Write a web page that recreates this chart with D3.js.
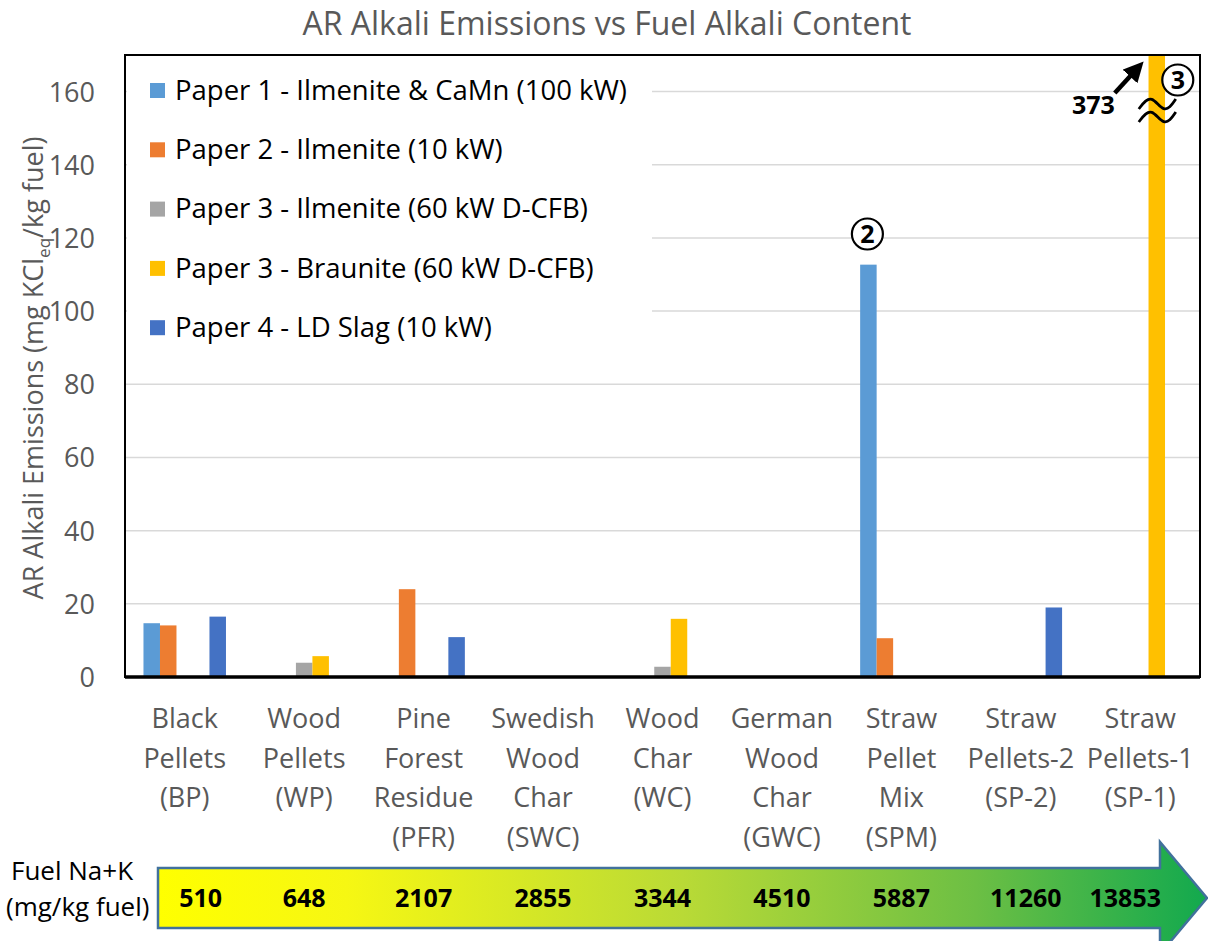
<!DOCTYPE html>
<html lang="en">
<head>
  <meta charset="UTF-8">
  <title>AR Alkali Emissions vs Fuel Alkali Content</title>
  <script src="https://d3js.org/d3.v7.min.js"></script>
  <style>
    body { margin: 0; background: #fff; }
    text { font-family: "Open Sans", "Noto Sans", sans-serif; }
  </style>
</head>
<body>
  <svg width="1208" height="941"></svg>
  <script>
    // fuels (x categories), each label split over lines
    const fuels = [
      ["Black", "Pellets", "(BP)"],
      ["Wood", "Pellets", "(WP)"],
      ["Pine", "Forest", "Residue", "(PFR)"],
      ["Swedish", "Wood", "Char", "(SWC)"],
      ["Wood", "Char", "(WC)"],
      ["German", "Wood", "Char", "(GWC)"],
      ["Straw", "Pellet", "Mix", "(SPM)"],
      ["Straw", "Pellets-2", "(SP-2)"],
      ["Straw", "Pellets-1", "(SP-1)"]
    ];
    const fuelIds = ["BP", "WP", "PFR", "SWC", "WC", "GWC", "SPM", "SP-2", "SP-1"];
    const fuelNaK = [510, 648, 2107, 2855, 3344, 4510, 5887, 11260, 13853];

    const seriesNames = [
      "Paper 1 - Ilmenite & CaMn (100 kW)",
      "Paper 2 - Ilmenite (10 kW)",
      "Paper 3 - Ilmenite (60 kW D-CFB)",
      "Paper 3 - Braunite (60 kW D-CFB)",
      "Paper 4 - LD Slag (10 kW)"
    ];
    const seriesColors = ["#5b9bd5", "#ed7d31", "#a5a5a5", "#ffc000", "#4472c4"];

    // values per series, one per fuel (null = not measured)
    const paper1 = [14.7, null, null, null, null, null, 112.7, null, null];
    const paper2 = [14.1, null, 24.0, null, null, null, 10.6, null, null];
    const paper3Ilm = [null, 3.9, null, null, 2.8, null, null, null, null];
    const paper3Brau = [null, 5.7, null, null, 15.9, null, null, null, 373];
    const paper4 = [16.5, null, 10.9, null, null, null, null, 19.0, null];
    const seriesValues = [paper1, paper2, paper3Ilm, paper3Brau, paper4];

    const yTicks = [0, 20, 40, 60, 80, 100, 120, 140, 160];

    const svg = d3.select("svg");
    const plotL = 125, plotR = 1200, plotT = 55, plotB = 677;

    const x = d3.scaleBand().domain(fuelIds).range([plotL, plotR]);
    const xs = d3.scaleBand().domain(d3.range(seriesNames.length))
        .range([0, x.bandwidth()]).paddingOuter(1.12);
    const y = d3.scaleLinear().domain([0, 170]).range([plotB, plotT]);

    svg.append("text")
        .attr("x", 607).attr("y", 35)
        .attr("text-anchor", "middle")
        .attr("font-size", 32)
        .attr("fill", "#595959")
        .text("AR Alkali Emissions vs Fuel Alkali Content");

    // gridlines
    svg.append("g")
        .selectAll("line")
        .data(yTicks.slice(1))
        .join("line")
          .attr("x1", plotL).attr("x2", plotR)
          .attr("y1", d => y(d)).attr("y2", d => y(d))
          .attr("stroke", "#d9d9d9")
          .attr("stroke-width", 1.5);

    // y axis labels
    const yAxis = svg.append("g")
        .attr("transform", `translate(${plotL},0)`)
        .call(d3.axisLeft(y).tickValues(yTicks).tickSize(0).tickPadding(30));
    yAxis.select(".domain").remove();
    yAxis.selectAll("text")
        .attr("font-size", 27)
        .attr("fill", "#595959")
        .attr("dy", "0.35em");

    const yTitle = svg.append("text")
        .attr("transform", "translate(43,368) rotate(-90)")
        .attr("text-anchor", "middle")
        .attr("font-size", 27)
        .attr("fill", "#595959");
    yTitle.append("tspan").text("AR Alkali Emissions (mg KCl");
    yTitle.append("tspan").attr("font-size", 17).attr("dy", 7).text("eq");
    yTitle.append("tspan").attr("dy", -7).text("/kg fuel)");

    svg.append("clipPath").attr("id", "plot")
      .append("rect")
        .attr("x", plotL).attr("y", plotT)
        .attr("width", plotR - plotL).attr("height", plotB - plotT);

    // bars
    const barData = [];
    seriesValues.forEach((vals, s) => vals.forEach((v, i) => {
      if (v != null) barData.push({ s, fuel: fuelIds[i], v });
    }));
    svg.append("g")
        .attr("clip-path", "url(#plot)")
      .selectAll("rect")
      .data(barData)
      .join("rect")
        .attr("x", d => x(d.fuel) + xs(d.s))
        .attr("y", d => y(d.v))
        .attr("width", xs.bandwidth())
        .attr("height", d => plotB - y(d.v))
        .attr("fill", d => seriesColors[d.s]);

    // legend with white background
    svg.append("rect")
        .attr("x", plotL + 2).attr("y", plotT + 2)
        .attr("width", 525).attr("height", 298)
        .attr("fill", "#fff");
    const legend = svg.append("g")
      .selectAll("g")
      .data(seriesNames)
      .join("g")
        .attr("transform", (d, i) => `translate(150,${90 + i * 59.3})`);
    legend.append("rect")
        .attr("x", 0).attr("y", -7)
        .attr("width", 15).attr("height", 15)
        .attr("fill", (d, i) => seriesColors[i]);
    legend.append("text")
        .attr("x", 25).attr("dy", "0.35em")
        .attr("font-size", 27.5)
        .attr("fill", "#000")
        .text(d => d);

    // plot frame
    svg.append("rect")
        .attr("x", plotL).attr("y", plotT)
        .attr("width", plotR - plotL).attr("height", plotB - plotT)
        .attr("fill", "none")
        .attr("stroke", "#000")
        .attr("stroke-width", 2);
    svg.append("line")
        .attr("x1", plotL).attr("x2", plotR)
        .attr("y1", plotB).attr("y2", plotB)
        .attr("stroke", "#000")
        .attr("stroke-width", 3.5);

    // category labels
    const cat = svg.append("g")
      .selectAll("text")
      .data(fuels)
      .join("text")
        .attr("x", (d, i) => x(fuelIds[i]) + x.bandwidth() / 2)
        .attr("y", 728)
        .attr("text-anchor", "middle")
        .attr("font-size", 27)
        .attr("fill", "#595959");
    cat.selectAll("tspan")
      .data(d => d)
      .join("tspan")
        .attr("x", function() { return this.parentNode.getAttribute("x"); })
        .attr("dy", (d, i) => i === 0 ? 0 : 39.7)
        .text(d => d);

    // annotations
    function circled(cx, cy, label) {
      svg.append("circle")
          .attr("cx", cx).attr("cy", cy).attr("r", 15.5)
          .attr("fill", "#fff").attr("stroke", "#000").attr("stroke-width", 2.2);
      svg.append("text")
          .attr("x", cx).attr("y", cy).attr("dy", "0.36em")
          .attr("text-anchor", "middle")
          .attr("font-size", 25).attr("font-weight", "bold")
          .text(label);
    }
    const spmX = x("SPM") + xs(0) + xs.bandwidth() / 2;
    circled(spmX - 1, 234, "2");

    const sp1X = x("SP-1") + xs(3) + xs.bandwidth() / 2;
    circled(sp1X + 21, 80, "3");

    svg.append("defs").append("marker")
        .attr("id", "head")
        .attr("viewBox", "0 0 10 10")
        .attr("refX", 5).attr("refY", 5)
        .attr("markerWidth", 4.5).attr("markerHeight", 4.5)
        .attr("orient", "auto")
      .append("path")
        .attr("d", "M0,0L10,5L0,10z")
        .attr("fill", "#000");
    svg.append("line")
        .attr("x1", sp1X - 42).attr("y1", 93)
        .attr("x2", sp1X - 20).attr("y2", 69)
        .attr("stroke", "#000").attr("stroke-width", 4.5)
        .attr("marker-end", "url(#head)");
    svg.append("text")
        .attr("x", sp1X - 42).attr("y", 105).attr("dy", "0.36em")
        .attr("text-anchor", "end")
        .attr("font-size", 25).attr("font-weight", "bold")
        .text(paper3Brau[8]);

    const wave = d3.line().curve(d3.curveBasis);
    [104, 117].forEach(wy => {
      const pts = [[-19, 5], [-12, -4], [-6, -6], [0, 0], [6, 6], [12, 4], [18, -5]]
        .map(p => [sp1X + 1 + p[0], wy + p[1]]);
      svg.append("path")
          .attr("d", wave(pts))
          .attr("fill", "none")
          .attr("stroke", "#000")
          .attr("stroke-width", 2.8);
    });

    // fuel Na+K arrow
    const grad = svg.append("defs").append("linearGradient")
        .attr("id", "fuelGrad").attr("x1", "0%").attr("x2", "100%");
    [[0, "#ffff00"], [0.18, "#f6f713"], [0.5, "#b9da36"], [0.78, "#6cbf44"], [1, "#12a94e"]]
      .forEach(([o, c]) => grad.append("stop").attr("offset", o).attr("stop-color", c));
    const ay0 = 868, ay1 = 928, amid = (ay0 + ay1) / 2;
    const arrow = d3.path();
    arrow.moveTo(158, ay0);
    arrow.lineTo(1160, ay0);
    arrow.lineTo(1160, 842);
    arrow.lineTo(1207, amid);
    arrow.lineTo(1160, 2 * amid - 842);
    arrow.lineTo(1160, ay1);
    arrow.lineTo(158, ay1);
    arrow.closePath();
    svg.append("path")
        .attr("d", arrow.toString())
        .attr("fill", "url(#fuelGrad)")
        .attr("stroke", "#41719c")
        .attr("stroke-width", 2.5);

    const nakNudge = [16, 0, 0, 0, 0, 0, 0, 5, -15];
    svg.append("g")
      .selectAll("text")
      .data(fuelNaK)
      .join("text")
        .attr("x", (d, i) => x(fuelIds[i]) + x.bandwidth() / 2 + nakNudge[i])
        .attr("y", amid).attr("dy", "0.36em")
        .attr("text-anchor", "middle")
        .attr("font-size", 25).attr("font-weight", "bold")
        .attr("fill", "#000")
        .text(d => d);

    svg.append("text")
        .attr("x", 11).attr("y", 880)
        .attr("font-size", 26).attr("fill", "#000")
        .text("Fuel Na+K");
    svg.append("text")
        .attr("x", 6).attr("y", 916)
        .attr("font-size", 26).attr("fill", "#000")
        .text("(mg/kg fuel)");
  </script>
</body>
</html>
